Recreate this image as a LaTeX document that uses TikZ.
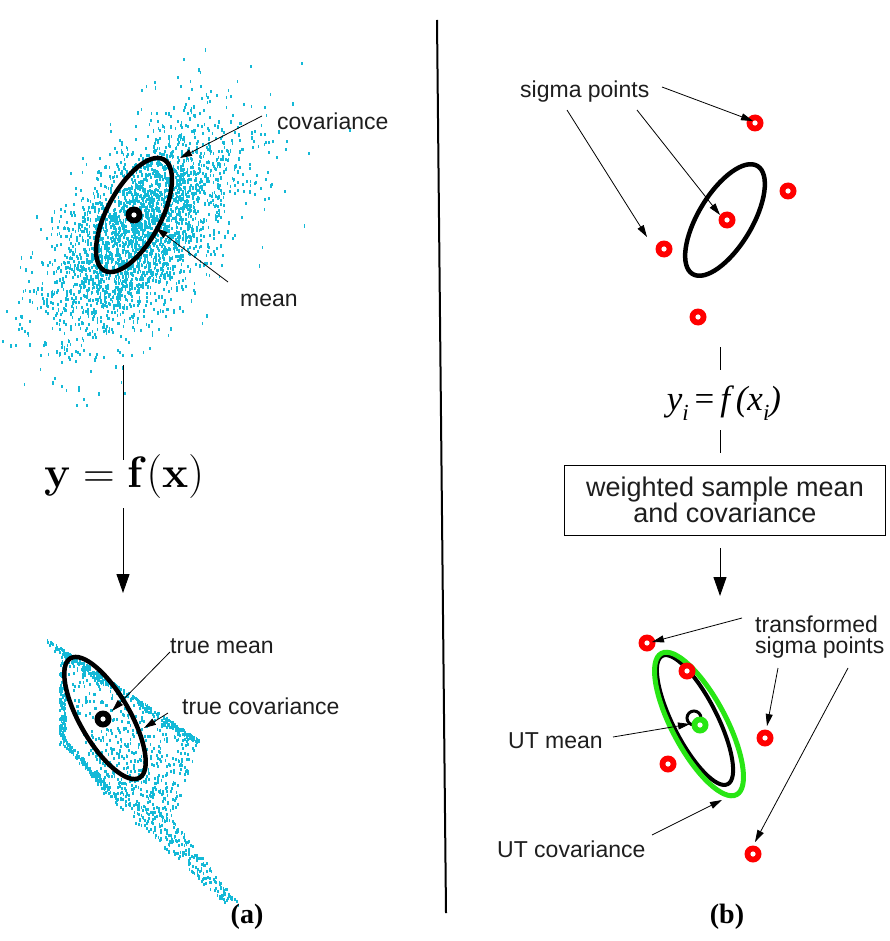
\documentclass[tikz,border=0pt]{standalone}
\usepackage{fix-cm}
\usepackage[no-math]{fontspec}
\setmainfont{Liberation Serif}
\setsansfont{Liberation Sans}
\usetikzlibrary{arrows.meta}
\definecolor{dotcyan}{RGB}{20,185,215}
\definecolor{ptred}{RGB}{255,0,0}
\definecolor{utgreen}{RGB}{40,230,20}
\definecolor{txt}{RGB}{30,30,30}
\tikzset{
  lbl/.style={font=\sffamily\fontsize{23}{23}\selectfont, text=txt, inner sep=0pt},
  ptr/.style={draw=black, line width=0.8pt, -{Triangle[length=12pt,width=7pt]}},
  bigptr/.style={draw=black, line width=1pt, -{Triangle[length=19pt,width=13pt]}},
  flowline/.style={draw=black, line width=1pt},
  ell/.style={draw=black, line width=4.5pt},
  ring/.style={circle, fill=#1, minimum size=17pt, inner sep=0pt,
    path picture={\fill[white] (path picture bounding box.center) circle (2.6pt);}},
  meanring/.style={ring=black},
  redpt/.style={ring=ptred},
  greenpt/.style={ring=utgreen},
  dot/.style={fill=dotcyan}
}
\begin{document}
\begin{tikzpicture}[x=1pt,y=-1pt]
\useasboundingbox (0,0) rectangle (890,941);
\fill[white] (0,0) rectangle (890,941);

% ---------- (a) top cloud ----------
\pgfmathsetseed{7}
\foreach \k in {1,...,2400}{%
  \pgfmathsetmacro\ga{(rand+rand+rand+rand)*0.866}%
  \pgfmathsetmacro\gb{(rand+rand+rand+rand)*0.866}%
  \pgfmathsetmacro\px{140+\ga*62*0.616+\gb*30*0.788}%
  \pgfmathsetmacro\py{228-\ga*62*0.788+\gb*30*0.616}%
  \fill[dot] (\px,\py) rectangle ++(1.8,3.2);
}
\foreach \k in {1,...,450}{%
  \pgfmathsetmacro\ga{(rand+rand+rand)}%
  \pgfmathsetmacro\gb{(rand+rand+rand)}%
  \pgfmathsetmacro\px{145+\ga*85*0.64+\gb*42*0.77}%
  \pgfmathsetmacro\py{225-\ga*85*0.77+\gb*42*0.64}%
  \fill[dot] (\px,\py) rectangle ++(1.6,3.2);
}
% ---------- (a) bottom transformed scatter ----------
\foreach \k in {1,...,340}{%
  \pgfmathsetmacro\t{rnd}%
  \pgfmathsetmacro\j{rnd*rnd*9}%
  \pgfmathsetmacro\px{47+\t*153-\j*0.555}%
  \pgfmathsetmacro\py{638+\t*102+\j*0.832}%
  \fill[dot] (\px,\py) rectangle ++(1.8,3);
}
\foreach \k in {1,...,140}{%
  \pgfmathsetmacro\px{59+rnd*6}%
  \pgfmathsetmacro\py{655+rnd*90}%
  \fill[dot] (\px,\py) rectangle ++(1.8,3);
}
\foreach \k in {1,...,110}{%
  \pgfmathsetmacro\t{rnd}%
  \pgfmathsetmacro\px{61+42*\t+rnd*5}%
  \pgfmathsetmacro\py{743+47*\t-rnd*5}%
  \fill[dot] (\px,\py) rectangle ++(1.8,3);
}
\foreach \k in {1,...,520}{%
  \pgfmathsetmacro\u{rnd}%
  \pgfmathsetmacro\v{rnd}%
  \pgfmathsetmacro\px{(1-\u)*(1-\v)*58+\u*(1-\v)*200+(1-\u)*\v*98+\u*\v*172}%
  \pgfmathsetmacro\py{(1-\u)*(1-\v)*648+\u*(1-\v)*740+(1-\u)*\v*788+\u*\v*818}%
  \fill[dot] (\px,\py) rectangle ++(1.8,3);
}
\foreach \k in {1,...,260}{%
  \pgfmathsetmacro\u{rnd}%
  \pgfmathsetmacro\v{rnd^1.5}%
  \pgfmathsetmacro\px{(1-\u)*(1-\v)*98+\u*(1-\v)*172+(1-\u)*\v*222+\u*\v*240}%
  \pgfmathsetmacro\py{(1-\u)*(1-\v)*788+\u*(1-\v)*818+(1-\u)*\v*900+\u*\v*905}%
  \fill[dot] (\px,\py) rectangle ++(1.8,3);
}

% ---------- (a) ellipses and means ----------
\coordinate (cA) at (134,215);
\draw[ell, rotate around={62:(cA)}] (cA) ellipse [x radius=63, y radius=27];
\node[meanring] (meanA) at (cA) {};
\coordinate (cB) at (105,718);
\draw[ell, rotate around={-60:(cB)}] (cB) ellipse [x radius=69, y radius=25];
\node[meanring] (meanB) at (103,719) {};

% ---------- (a) labels ----------
\node[lbl, anchor=west] (tcov) at (277,121) {covariance};
\node[lbl, anchor=west] (tmean) at (240,300) {mean};
\node[lbl, anchor=west] (ttmean) at (170,646) {true mean};
\node[lbl, anchor=west] (ttcov) at (182,706) {true covariance};
\coordinate (covS) at (262,116);
\coordinate (covT) at (180,158);
\coordinate (meanS) at (228,282);
\coordinate (meanT) at (156,228);
\coordinate (tmS) at (170,652);
\coordinate (tmT) at (112,711);
\coordinate (tcS) at (168,713);
\coordinate (tcT) at (144,728);
\draw[ptr] (covS) -- (covT);
\draw[ptr] (meanS) -- (meanT);
\draw[ptr] (tmS) -- (tmT);
\draw[ptr] (tcS) -- (tcT);

% ---------- (a) flow ----------
\node[inner sep=0pt] (eqa) at (124,476) {\fontsize{44}{44}\selectfont $\mathbf{y}=\mathbf{f}(\mathbf{x})$};
\coordinate (la1) at (123,365);
\coordinate (la2) at (123,460);
\coordinate (la3) at (123,508);
\coordinate (la4) at (123,593);
\draw[flowline] (la1) -- (la2);
\draw[bigptr] (la3) -- (la4);

% ---------- divider ----------
\coordinate (d1) at (437,20);
\coordinate (d2) at (446,913);
\draw[line width=2pt] (d1) -- (d2);

% ---------- (b) top ----------
\coordinate (cC) at (725,220);
\draw[ell, rotate around={59:(cC)}] (cC) ellipse [x radius=63, y radius=27];
\node[redpt] (s1) at (755,123) {};
\node[redpt] (s2) at (788,191) {};
\node[redpt] (s0) at (727,220) {};
\node[redpt] (s3) at (664,249) {};
\node[redpt] (s4) at (698,317) {};
\node[lbl, anchor=west] (tsig) at (520,92) {sigma points};
\coordinate (sgS1) at (662,87);
\coordinate (sgT1) at (753,121);
\coordinate (sgS2) at (637,110);
\coordinate (sgT2) at (720,215);
\coordinate (sgS3) at (567,110);
\coordinate (sgT3) at (647,237);
\draw[ptr] (sgS1) -- (sgT1);
\draw[ptr] (sgS2) -- (sgT2);
\draw[ptr] (sgS3) -- (sgT3);

% ---------- (b) flow ----------
\coordinate (lb1) at (720,347);
\coordinate (lb2) at (720,370);
\node[inner sep=0pt] (eqb) at (724,403) {\fontsize{35}{35}\selectfont\itshape y\raisebox{-0.28em}{\fontsize{23}{23}\selectfont i}\,\textup{=}\,f\,(x\raisebox{-0.28em}{\fontsize{23}{23}\selectfont i})};
\coordinate (lb3) at (720,430);
\coordinate (lb4) at (720,453);
\draw[flowline] (lb1) -- (lb2);
\draw[flowline] (lb3) -- (lb4);
\node[draw=black, line width=1pt, minimum width=321pt, minimum height=70pt, inner sep=0pt, align=center,
      font=\sffamily\fontsize{27}{25}\selectfont, text=txt] (box) at (725,500) {weighted sample mean\\and covariance};
\coordinate (lb5) at (720,548);
\coordinate (lb6) at (720,596);
\draw[bigptr] (lb5) -- (lb6);

% ---------- (b) bottom ----------
\coordinate (cD) at (699,724);
\coordinate (cE) at (695,720);
\draw[draw=black, line width=4pt, rotate around={-63:(cE)}] (cE) ellipse [x radius=72, y radius=22];
\draw[draw=utgreen, line width=5pt, rotate around={-62:(cD)}] (cD) ellipse [x radius=80, y radius=27];
\node[circle, draw=black, line width=3pt, minimum size=14pt, inner sep=0pt] (utblk) at (694,718) {};
\node[greenpt] (utm) at (700,725) {};
\node[redpt] (t1) at (647,643) {};
\node[redpt] (t2) at (687,671) {};
\node[redpt] (t3) at (765,738) {};
\node[redpt] (t4) at (668,764) {};
\node[redpt] (t5) at (753,854) {};
\node[lbl, anchor=west] (ttr1) at (755,624) {transformed};
\node[lbl, anchor=west] (ttr2) at (755,648) {sigma points};
\node[lbl, anchor=west] (tutm) at (508,741) {UT mean};
\node[lbl, anchor=west] (tutc) at (497,849) {UT covariance};
\coordinate (trS1) at (742,618);
\coordinate (trT1) at (652,642);
\coordinate (trS2) at (778,668);
\coordinate (trT2) at (767,726);
\coordinate (trS3) at (848,668);
\coordinate (trT3) at (755,842);
\coordinate (umS) at (613,737);
\coordinate (umT) at (690,724);
\coordinate (ucS) at (652,835);
\coordinate (ucT) at (722,800);
\draw[ptr] (trS1) -- (trT1);
\draw[ptr] (trS2) -- (trT2);
\draw[ptr] (trS3) -- (trT3);
\draw[ptr] (umS) -- (umT);
\draw[ptr] (ucS) -- (ucT);

% ---------- captions ----------
\node[font=\bfseries\fontsize{28}{28}\selectfont] (capa) at (247,917) {(a)};
\node[font=\bfseries\fontsize{28}{28}\selectfont] (capb) at (727,917) {(b)};
\end{tikzpicture}
\end{document}
